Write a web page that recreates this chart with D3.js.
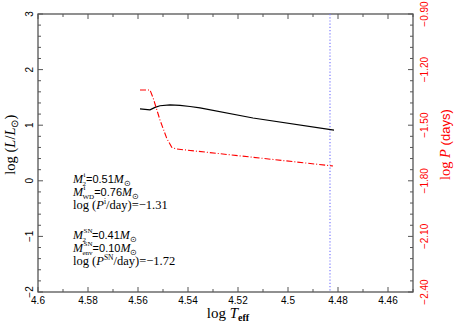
<!DOCTYPE html>
<html>
<head>
<meta charset="utf-8">
<script src="https://cdn.jsdelivr.net/npm/d3@7"></script>
<style>
  body { margin: 0; background: #fff; }
  svg { display: block; }
  .tick-lab { font-family: "Liberation Sans", Arial, sans-serif; font-size: 10px; }
  .sans { font-family: "Liberation Sans", Arial, sans-serif; }
  .serif { font-family: "Liberation Serif", "Times New Roman", serif; }
</style>
</head>
<body>
<div class="chart"></div>
<script>
// Black track: log Teff vs log L (left axis)
let teffL = [4.5592, 4.5552, 4.5532, 4.5512, 4.5472, 4.5432, 4.5392, 4.5352, 4.514, 4.4816]
let logL = [1.295, 1.277, 1.32, 1.35, 1.367, 1.358, 1.336, 1.313, 1.13, 0.91]

// Red track: log Teff vs log P (right axis)
let teffP = [4.5592, 4.5552, 4.5539, 4.5512, 4.5485, 4.5465, 4.5448, 4.482]
let logP = [-1.31, -1.31, -1.355, -1.472, -1.571, -1.619, -1.628, -1.72]

// Vertical dotted marker
let teffMark = 4.4832

let xTicks = [4.6, 4.58, 4.56, 4.54, 4.52, 4.5, 4.48, 4.46]
let yTicks = [-2, -1, 0, 1, 2, 3]
let pTicks = [-2.40, -2.10, -1.80, -1.50, -1.20, -0.90]

let outerWidth = 455
let outerHeight = 327
let margin = {top: 14, bottom: 35, left: 38, right: 42}
let width = outerWidth - margin.left - margin.right
let height = outerHeight - margin.top - margin.bottom

let svg = d3.select(".chart")
    .append("svg")
    .attr("width", outerWidth)
    .attr("height", outerHeight)
    .append("g")
    .attr("transform", `translate(${margin.left}, ${margin.top})`)

let xScale = d3.scaleLinear().domain([4.6, 4.45]).range([0, width])
let yScale = d3.scaleLinear().domain([-2, 3]).range([height, 0])
let pScale = d3.scaleLinear().domain([-2.4, -0.9]).range([height, 0])

let axisColor = "#555"

// minor ticks
let xMinor = d3.range(0, 16).map(i => 4.6 - i * 0.01)
let yMinor = d3.range(0, 26).map(i => -2 + i * 0.2)
let pMinor = d3.range(0, 26).map(i => -2.4 + i * 0.06)

function tickG(cls) {
    return svg.append("g").attr("stroke", axisColor).attr("stroke-width", 1).attr("class", cls)
}

let tb = tickG("x-ticks")
tb.selectAll("line.b").data(xMinor).enter().append("line")
    .attr("x1", d => xScale(d)).attr("x2", d => xScale(d))
    .attr("y1", height).attr("y2", (d, i) => height - (i % 2 == 0 ? 5 : 3))
tb.selectAll("line.t").data(xMinor).enter().append("line")
    .attr("x1", d => xScale(d)).attr("x2", d => xScale(d))
    .attr("y1", 0).attr("y2", (d, i) => (i % 2 == 0 ? 5 : 3))

let tl = tickG("y-ticks")
tl.selectAll("line").data(yMinor).enter().append("line")
    .attr("x1", 0).attr("x2", (d, i) => (i % 5 == 0 ? 5 : 3))
    .attr("y1", d => yScale(d)).attr("y2", d => yScale(d))

let tr = tickG("p-ticks")
tr.selectAll("line").data(pMinor).enter().append("line")
    .attr("x1", width).attr("x2", (d, i) => width - (i % 5 == 0 ? 5 : 3))
    .attr("y1", d => pScale(d)).attr("y2", d => pScale(d))

// frame
svg.append("rect")
    .attr("width", width).attr("height", height)
    .attr("fill", "none").attr("stroke", axisColor).attr("stroke-width", 1.3)

// tick labels
svg.append("g").selectAll("text").data(xTicks).enter().append("text")
    .attr("class", "tick-lab")
    .attr("x", d => xScale(d)).attr("y", height + 12)
    .attr("text-anchor", "middle")
    .text(d => d3.format("")(d))

svg.append("g").selectAll("text").data(yTicks).enter().append("text")
    .attr("class", "tick-lab")
    .attr("transform", d => `translate(-5, ${yScale(d)}) rotate(-90)`)
    .attr("text-anchor", "middle")
    .text(d => d3.format("")(d).replace("-", "\u2212"))

svg.append("g").selectAll("text").data(pTicks).enter().append("text")
    .attr("class", "tick-lab")
    .attr("fill", "red")
    .attr("transform", d => `translate(${width + 15}, ${pScale(d)}) rotate(-90)`)
    .attr("text-anchor", "middle")
    .text(d => d3.format(".2f")(d).replace("-", "\u2212"))

// axis titles
let xt = svg.append("text").attr("class", "serif")
    .attr("x", xScale(4.524)).attr("y", height + 26)
    .attr("text-anchor", "middle").attr("font-size", 15)
xt.append("tspan").text("log ")
xt.append("tspan").attr("font-style", "italic").text("T")
xt.append("tspan").attr("font-size", 10).attr("font-weight", "bold").attr("dy", 3).text("eff")

let yt = svg.append("text").attr("class", "serif")
    .attr("transform", `translate(-23, ${yScale(0.65)}) rotate(-90)`)
    .attr("text-anchor", "middle").attr("font-size", 14.5)
yt.append("tspan").text("log (")
yt.append("tspan").attr("font-style", "italic").text("L")
yt.append("tspan").text("/")
yt.append("tspan").attr("font-style", "italic").text("L")
yt.append("tspan").attr("font-size", 10).attr("dy", 3).text("\u2299")
yt.append("tspan").attr("dy", -3).text(")")

let pt = svg.append("text").attr("class", "serif")
    .attr("fill", "red")
    .attr("transform", `translate(${width + 37}, ${yScale(0.65)}) rotate(-90)`)
    .attr("text-anchor", "middle").attr("font-size", 14.5)
pt.append("tspan").text("log ")
pt.append("tspan").attr("font-style", "italic").text("P")
pt.append("tspan").attr("class", "sans").attr("font-size", 13).text(" (days)")

// marker line
svg.append("line")
    .attr("x1", xScale(teffMark)).attr("x2", xScale(teffMark))
    .attr("y1", 0).attr("y2", height)
    .attr("stroke", "#7b7bff").attr("stroke-width", 1.2)
    .attr("stroke-dasharray", "1.2,2")

// tracks
let lineL = d3.line().x(d => xScale(d[0])).y(d => yScale(d[1]))
svg.append("path")
    .attr("d", lineL(d3.zip(teffL, logL)))
    .attr("fill", "none").attr("stroke", "black").attr("stroke-width", 1.2)

let lineP = d3.line().x(d => xScale(d[0])).y(d => pScale(d[1]))
svg.append("path")
    .attr("d", lineP(d3.zip(teffP, logP)))
    .attr("fill", "none").attr("stroke", "red").attr("stroke-width", 1.1)
    .attr("stroke-dasharray", "6,2,1,2")

// annotation: M with stacked super/subscript, written as one text
function massLine(x, y, sup, sub, val) {
    let t = svg.append("text").attr("class", "serif").attr("x", x).attr("y", y)
    t.append("tspan").attr("font-style", "italic").attr("font-size", 12).text("M")
    let s1 = t.append("tspan").attr("font-size", 7).attr("dx", 0.5).attr("dy", -6).text(sup)
    let w1 = s1.node().getComputedTextLength()
    let s2 = t.append("tspan").attr("font-size", 7).attr("dx", -w1 - 1).attr("dy", 8.5).text(sub)
    let w2 = s2.node().getComputedTextLength() - 0.5
    t.append("tspan").attr("class", "sans").attr("font-size", 11)
        .attr("dx", Math.max(0, w1 - w2)).attr("dy", -2.5).text("=" + val)
    t.append("tspan").attr("font-style", "italic").attr("font-size", 12).text("M")
    t.append("tspan").attr("font-size", 8).attr("dy", 2.5).text("\u2299")
}

function periodLine(x, y, sup, val) {
    let t = svg.append("text").attr("class", "serif").attr("font-size", 12.5)
        .attr("x", x).attr("y", y)
    t.append("tspan").text("log (")
    t.append("tspan").attr("font-style", "italic").text("P")
    t.append("tspan").attr("font-size", 7.5).attr("dy", -5).text(sup)
    t.append("tspan").attr("dy", 5).text("/day)=" + val)
}

let ax = 35
massLine(ax, 183 - margin.top, "i", "2", "0.51")
massLine(ax, 196 - margin.top, "i", "WD", "0.76")
periodLine(ax, 209 - margin.top, "i", "\u22121.31")
massLine(ax, 239 - margin.top, "SN", "2", "0.41")
massLine(ax, 252 - margin.top, "SN", "env", "0.10")
periodLine(ax, 265 - margin.top, "SN", "\u22121.72")
</script>
</body>
</html>
